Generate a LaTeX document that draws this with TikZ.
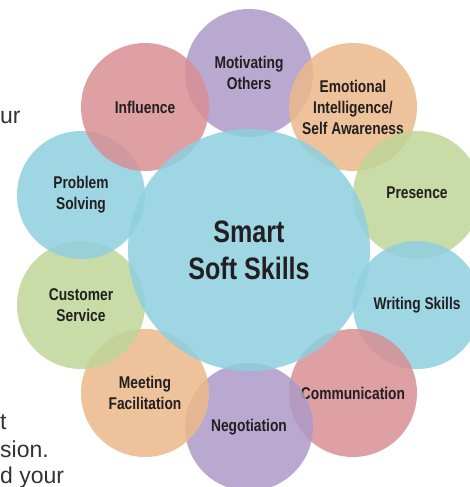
\documentclass[tikz,border=0pt]{standalone}
\usepackage{fontspec}
\setmainfont{Liberation Sans}
\newfontfamily\skillfont[FakeStretch=0.81]{Liberation Sans}

\definecolor{skill_red}{HTML}{D98F94}
\definecolor{skill_purple}{HTML}{AD99C7}
\definecolor{skill_orange}{HTML}{EBB889}
\definecolor{skill_green}{HTML}{BFD596}
\definecolor{skill_blue}{HTML}{8ECFDF}
\definecolor{skill_text}{HTML}{231F20}
\definecolor{page_grey}{HTML}{333333}

\begin{document}
\begin{tikzpicture}[x=1pt,y=-1pt,
    skill_node/.style={circle,draw=none,fill opacity=0.85,text opacity=1,minimum size=128pt,inner sep=0pt,align=center,text=skill_text,font=\skillfont\bfseries\fontsize{17}{21}\selectfont},
    hub_node/.style={skill_node,minimum size=242pt,font=\skillfont\bfseries\fontsize{31}{37}\selectfont},
    page_text/.style={anchor=base west,inner sep=0pt,text=page_grey,font=\fontsize{23}{26}\selectfont}]

    \useasboundingbox (0,0) rectangle (470,487);
    \clip (0,0) rectangle (470,487);

    % bits of the page text beside the figure
    \node[page_text] (p1) at (0,123) {ur};
    \node[page_text] (p2) at (0,429) {t};
    \node[page_text] (p3) at (0,457) {sion.};
    \node[page_text] (p4) at (0,483) {d your};

    % ring of skills, 36 degrees apart
    \node[skill_node,fill=skill_purple] (1) at (249,73) {Motivating\\Others};
    \node[skill_node,fill=skill_orange] (2) at (353,107) {Emotional\\Intelligence/\\Self Awareness};
    \node[skill_node,fill=skill_green] (3) at (417,195) {\raisebox{4pt}{Presence}};
    \node[skill_node,fill=skill_blue] (4) at (417,305) {\raisebox{3pt}{Writing Skills}};
    \node[skill_node,fill=skill_red] (5) at (353,393) {Communication};
    \node[skill_node,fill=skill_purple] (6) at (249,427) {\raisebox{-3pt}{Negotiation}};
    \node[skill_node,fill=skill_orange] (7) at (145,393) {Meeting\\Facilitation};
    \node[skill_node,fill=skill_green] (8) at (81,305) {Customer\\Service};
    \node[skill_node,fill=skill_blue] (9) at (81,195) {Problem\\Solving};
    \node[skill_node,fill=skill_red] (10) at (145,107) {Influence};

    \node[hub_node,fill=skill_blue] (0) at (249,250) {Smart\\Soft Skills};
\end{tikzpicture}
\end{document}
